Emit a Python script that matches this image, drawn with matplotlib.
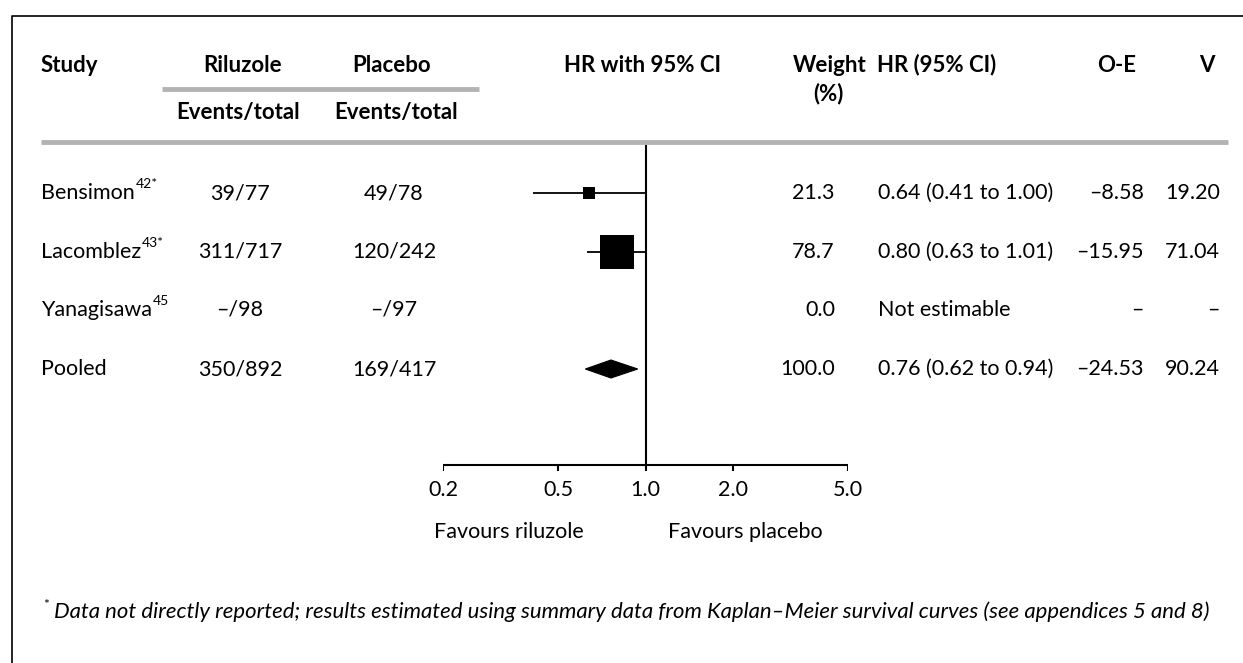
import matplotlib
matplotlib.use("Agg")
import matplotlib.pyplot as plt
from matplotlib.patches import Polygon

# ---- data ----
studies = ["Bensimon", "Lacomblez", "Yanagisawa", "Pooled"]
refs = ["42*", "43*", "45", ""]
riluzole = ["39/77", "311/717", "\u2013/98", "350/892"]
placebo = ["49/78", "120/242", "\u2013/97", "169/417"]
hr = [0.64, 0.80, None, 0.76]
ci_lo = [0.41, 0.63, None, 0.62]
ci_hi = [1.00, 1.01, None, 0.94]
weight = [21.3, 78.7, 0.0, 100.0]
oe = [-8.58, -15.95, None, -24.53]
var = [19.20, 71.04, None, 90.24]
ticks = [0.2, 0.5, 1.0, 2.0, 5.0]

# ---- layout (pixels) ----
W, H = 1243, 663
row_y = [193, 252, 310, 369]
axis_y = 465
FONT = "Lato"
fs = 15.5      # body text
fsb = 16       # bold headers
GREY = "#b3b3b3"

fig = plt.figure(figsize=(W / 100, H / 100), dpi=100)
ax = fig.add_axes([0, 0, 1, 1])
ax.set_xlim(0, W)
ax.set_ylim(H, 0)
ax.axis("off")

# forest panel, log scale between 0.2 and 5
x0, x1 = 443, 848
ax2 = fig.add_axes([x0 / W, 0, (x1 - x0) / W, 1])
ax2.set_xscale("log")
ax2.set_xlim(0.2, 5.0)
ax2.set_ylim(H, 0)
ax2.axis("off")

# frame: top and left only
ax.plot([12, 12, W], [H, 16, 16], color="black", lw=1.2, solid_capstyle="butt")

# header
hb = dict(fontsize=fsb, fontweight="bold", family=FONT, va="center")
ax.text(41, 65, "Study", ha="left", **hb)
ax.text(243, 65, "Riluzole", ha="center", **hb)
ax.text(392, 65, "Placebo", ha="center", **hb)
ax.text(238, 113, "Events/total", ha="center", **hb)
ax.text(396, 113, "Events/total", ha="center", **hb)
ax.text(643, 65, "HR with 95% CI", ha="center", **hb)
ax.text(867, 65, "Weight", ha="right", **hb)
ax.text(828, 94, "(%)", ha="center", **hb)
ax.text(877, 65, "HR (95% CI)", ha="left", **hb)
ax.text(1117, 65, "O-E", ha="center", **hb)
ax.text(1207, 65, "V", ha="center", **hb)

ax.hlines(89, 162, 479, color=GREY, lw=3.5)
ax.hlines(142, 41, 1228, color=GREY, lw=3.5)

def num(v, d):
    if v is None:
        return "\u2013"
    s = f"{v:.{d}f}"
    return s.replace("-", "\u2013")

tr = dict(fontsize=fs, family=FONT, va="center")
name_txt = []
for i, y in enumerate(row_y):
    name_txt.append(ax.text(41, y, studies[i], ha="left", **tr))
    ax.text(240, y, riluzole[i], ha="center", **tr)
    ax.text(394, y, placebo[i], ha="center", **tr)
    ax.text(835, y, f"{weight[i]:.1f}", ha="right", **tr)
    if hr[i] is None:
        ax.text(878, y, "Not estimable", ha="left", **tr)
    else:
        ax.text(878, y, f"{hr[i]:.2f} ({ci_lo[i]:.2f} to {ci_hi[i]:.2f})", ha="left", **tr)
    ax.text(1144, y, num(oe[i], 2), ha="right", **tr)
    ax.text(1220, y, num(var[i], 2), ha="right", **tr)

# superscript references after study names
fig.canvas.draw()
for i, t in enumerate(name_txt):
    if refs[i]:
        bb = t.get_window_extent()
        ax.text(bb.x1 + 1, row_y[i] - 9, refs[i], ha="left", va="center",
                fontsize=10, family=FONT)

# forest marks
for i, y in enumerate(row_y):
    if hr[i] is None:
        continue
    if studies[i] == "Pooled":
        h = 9
        ax2.add_patch(Polygon([(ci_lo[i], y), (hr[i], y - h), (ci_hi[i], y), (hr[i], y + h)],
                              closed=True, facecolor="black", edgecolor="black", lw=0.8))
    else:
        ax2.hlines(y, ci_lo[i], ci_hi[i], color="black", lw=1.3)
        side = 34 * (weight[i] / 78.7) ** 0.78
        ax2.plot(hr[i], y, marker="s", markersize=side * 0.72, color="black", mew=0)

ax2.vlines(1.0, 145, axis_y, color="black", lw=1.5)
ax2.hlines(axis_y, 0.2, 5.0, color="black", lw=1.5)
ax2.vlines(ticks, axis_y, axis_y + 6, color="black", lw=1.5)
for tk in ticks:
    ax2.text(tk, 490, f"{tk:.1f}", ha="center", va="center", fontsize=fs, family=FONT)
ax2.text(0.61, 532, "Favours riluzole", ha="right", va="center", fontsize=fs, family=FONT)
ax2.text(1.20, 532, "Favours placebo", ha="left", va="center", fontsize=fs, family=FONT)

# footnote
ax.text(43, 605, "*", ha="left", va="center", fontsize=10, family=FONT)
ax.text(54, 612, "Data not directly reported; results estimated using summary data from "
        "Kaplan\u2013Meier survival curves (see appendices 5 and 8)",
        ha="left", va="center", fontsize=15.9, family=FONT, style="italic")

fig.savefig("out.png", dpi=100)
